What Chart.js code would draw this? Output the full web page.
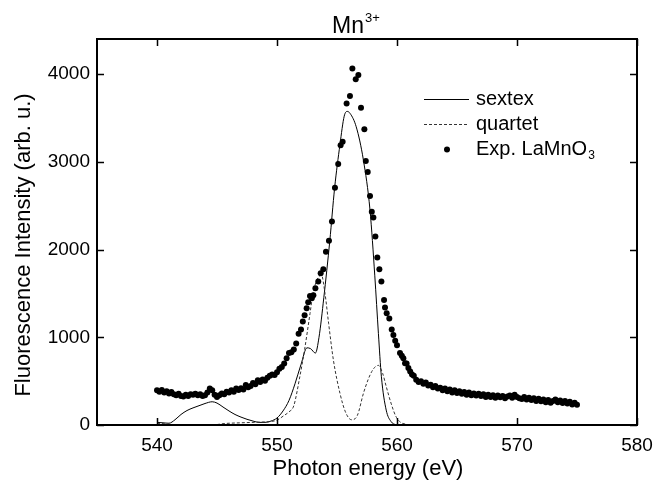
<!DOCTYPE html>
<html>
<head>
<meta charset="utf-8">
<script src="https://cdn.jsdelivr.net/npm/chart.js@4.4.1/dist/chart.umd.min.js"></script>
<style>
  body { margin: 0; background: #fff; }
  canvas { display: block; }
</style>
</head>
<body>
<canvas id="mn_chart" width="662" height="490"></canvas>
<script>
const x_ticks = [540, 550, 560, 570, 580];
const y_ticks = [0, 1000, 2000, 3000, 4000];

// measured points, Exp. LaMnO3
const exp_energy = [
  540.0,540.2,540.4,540.6,540.8,541.0,541.2,541.4,541.6,541.8,
  542.0,542.2,542.4,542.6,542.8,543.0,543.2,543.4,543.6,543.8,
  544.0,544.2,544.4,544.6,544.8,545.0,545.2,545.4,545.6,545.8,
  546.0,546.2,546.4,546.6,546.8,547.0,547.2,547.4,547.6,547.8,
  548.0,548.2,548.4,548.6,548.8,549.0,549.2,549.4,549.6,549.8,
  550.0,550.2,550.4,550.6,550.8,551.0,551.2,551.4,551.6,551.8,
  552.0,552.15,552.3,552.47,552.6,552.75,552.9,553.03,553.2,553.44,
  553.64,553.86,554.08,554.33,554.58,554.83,555.1,555.3,555.47,555.8,
  556.08,556.28,556.56,556.78,557.0,557.28,557.4,557.56,557.75,557.9,
  558.03,558.2,558.36,558.53,558.7,558.92,559.0,559.14,559.36,559.56,
  559.7,559.85,560.0,560.25,560.4,560.53,560.67,560.8,560.95,561.1,
  561.25,561.4,561.6,
  561.8,562.0,562.2,562.4,562.6,562.8,563.0,563.2,563.4,563.6,
  563.8,564.0,564.2,564.4,564.6,564.8,565.0,565.2,565.4,565.6,
  565.8,566.0,566.2,566.4,566.6,566.8,567.0,567.2,567.4,567.6,
  567.8,568.0,568.2,568.4,568.6,568.8,569.0,569.2,569.4,569.6,
  569.8,570.0,570.2,570.4,570.6,570.8,571.0,571.2,571.4,571.6,
  571.8,572.0,572.2,572.4,572.6,572.8,573.0,573.2,573.4,573.6,
  573.8,574.0,574.2,574.4,574.6,574.8,575.0
];
const exp_intensity = [
  395,380,400,370,385,360,375,350,340,355,
  330,325,345,330,350,345,355,340,350,330,
  340,370,415,395,345,320,340,360,350,380,
  370,395,380,415,400,420,405,455,430,445,
  480,465,510,490,520,505,540,560,575,570,
  600,640,660,700,760,820,830,860,930,1040,
  1090,1180,1250,1330,1400,1470,1445,1480,1560,1635,
  1730,1775,1975,2100,2320,2705,2975,3190,3230,3665,
  3750,4065,3940,3990,3615,3370,3010,2885,2610,2430,
  2365,2150,1910,1775,1635,1425,1340,1275,1215,1090,
  1025,960,910,820,790,760,705,700,650,610,
  575,560,515,
  490,500,470,485,450,460,430,445,415,425,
  395,415,385,405,370,395,365,385,355,375,
  345,370,340,360,335,355,330,350,320,345,
  320,340,310,335,315,330,305,325,335,310,
  345,320,305,295,320,290,310,285,305,275,
  300,270,290,260,285,255,275,290,260,280,
  250,275,245,265,235,255,230
];

// calculated sextex spectrum
const sextex_energy = [
  540.0,540.5,541.0,541.5,542.0,542.5,543.0,543.5,544.0,544.6,
  545.0,545.5,546.0,546.5,547.0,547.5,548.0,548.5,549.0,549.5,
  550.0,550.5,551.0,551.5,552.0,552.5,552.8,553.2,553.5,553.9,
  554.4,554.8,555.25,555.6,555.85,556.1,556.6,557.2,557.75,558.15,
  558.45,558.7,559.1,559.5,559.9
];
const sextex_intensity = [
  30,25,20,60,120,165,195,220,245,265,
  250,205,160,120,90,65,45,30,30,45,
  80,160,280,470,690,880,870,820,1000,1450,
  2100,2700,3200,3520,3575,3550,3400,3020,2450,1700,
  1045,550,170,40,0
];

// calculated quartet spectrum
const quartet_energy = [
  540.0,540.5,541.0,541.5,542.5,543.5,544.5,545.0,545.5,546.0,
  547.0,548.0,549.0,549.5,550.0,550.5,551.0,551.4,551.9,552.3,
  552.75,553.0,553.35,553.7,554.0,554.3,554.7,555.25,555.7,556.2,
  556.7,557.2,557.6,557.9,558.2,558.45,558.8,559.1,559.5,559.9,
  560.3,560.7,561.0
];
const quartet_intensity = [
  20,15,5,0,0,0,0,5,15,20,
  25,30,35,40,55,100,150,220,550,860,
  1270,1500,1660,1710,1500,1160,740,360,150,60,
  110,360,520,610,665,680,590,440,250,100,
  30,10,0
];

const font_family = "'Liberation Sans', Arial, Helvetica, sans-serif";

function to_points(xs, ys) {
  return xs.map((x, i) => ({ x: x, y: ys[i] }));
}

// box round the plot with inward ticks on all four sides
const frame_plugin = {
  id: "frame",
  afterDraw(chart) {
    const ctx = chart.ctx;
    const area = chart.chartArea;
    const xs = chart.scales.x;
    const ys = chart.scales.y;
    ctx.save();
    ctx.strokeStyle = "#000";
    ctx.lineWidth = 2;
    ctx.strokeRect(area.left, area.top, area.right - area.left, area.bottom - area.top);
    ctx.lineWidth = 1.5;
    ctx.beginPath();
    for (const t of xs.ticks) {
      const px = Math.round(xs.getPixelForValue(t.value)) + 0.5;
      ctx.moveTo(px, area.bottom);
      ctx.lineTo(px, area.bottom - 7);
      ctx.moveTo(px, area.top);
      ctx.lineTo(px, area.top + 7);
    }
    for (const t of ys.ticks) {
      const py = Math.round(ys.getPixelForValue(t.value)) + 0.5;
      ctx.moveTo(area.left, py);
      ctx.lineTo(area.left + 7, py);
      ctx.moveTo(area.right, py);
      ctx.lineTo(area.right - 7, py);
    }
    ctx.stroke();
    ctx.restore();
  }
};

// title, axis titles and legend
const text_plugin = {
  id: "texts",
  afterDraw(chart) {
    const ctx = chart.ctx;
    ctx.save();
    ctx.fillStyle = "#000";
    ctx.textBaseline = "alphabetic";

    // title Mn3+
    ctx.font = "23px " + font_family;
    const w_main = ctx.measureText("Mn").width;
    ctx.font = "13px " + font_family;
    const w_sup = ctx.measureText("3+").width;
    const title_x = 356 - (w_main + w_sup + 1) / 2;
    ctx.font = "23px " + font_family;
    ctx.textAlign = "left";
    ctx.fillText("Mn", title_x, 33);
    ctx.font = "13px " + font_family;
    ctx.fillText("3+", title_x + w_main + 1, 22);

    // axis titles
    ctx.font = "22px " + font_family;
    ctx.textAlign = "center";
    ctx.textBaseline = "middle";
    ctx.fillText("Photon energy (eV)", 368, 469);
    ctx.save();
    ctx.translate(24, 245);
    ctx.rotate(-Math.PI / 2);
    ctx.fillText("Fluorescence Intensity (arb. u.)", 0, 0);
    ctx.restore();

    // legend
    ctx.strokeStyle = "#000";
    ctx.lineWidth = 1;
    ctx.beginPath();
    ctx.moveTo(424, 99.5);
    ctx.lineTo(469, 99.5);
    ctx.stroke();
    ctx.strokeStyle = "#333";
    ctx.setLineDash([3, 2]);
    ctx.beginPath();
    ctx.moveTo(424, 124.5);
    ctx.lineTo(469, 124.5);
    ctx.stroke();
    ctx.setLineDash([]);
    ctx.beginPath();
    ctx.arc(447, 149.5, 3, 0, Math.PI * 2);
    ctx.fill();

    ctx.font = "20px " + font_family;
    ctx.textAlign = "left";
    ctx.textBaseline = "middle";
    ctx.fillText("sextex", 476, 99);
    ctx.fillText("quartet", 476, 124);
    ctx.fillText("Exp. LaMnO", 476, 149);
    const w_exp = ctx.measureText("Exp. LaMnO").width;
    ctx.font = "12px " + font_family;
    ctx.fillText("3", 476 + w_exp + 1, 156);
    ctx.restore();
  }
};

new Chart(document.getElementById("mn_chart"), {
  type: "scatter",
  data: {
    datasets: [
      {
        label: "Exp. LaMnO3",
        data: to_points(exp_energy, exp_intensity),
        showLine: false,
        pointRadius: 3,
        pointBackgroundColor: "#000",
        pointBorderWidth: 0,
        order: 0
      },
      {
        label: "sextex",
        data: to_points(sextex_energy, sextex_intensity),
        showLine: true,
        borderColor: "#000",
        borderWidth: 1,
        pointRadius: 0,
        cubicInterpolationMode: "monotone",
        order: 2
      },
      {
        label: "quartet",
        data: to_points(quartet_energy, quartet_intensity),
        showLine: true,
        borderColor: "#333",
        borderWidth: 1,
        borderDash: [3, 2],
        pointRadius: 0,
        cubicInterpolationMode: "monotone",
        order: 1
      }
    ]
  },
  options: {
    responsive: false,
    animation: false,
    events: [],
    layout: { padding: { top: 39, right: 25, left: 0, bottom: 0 } },
    plugins: {
      legend: { display: false },
      title: { display: false },
      tooltip: { enabled: false }
    },
    scales: {
      x: {
        type: "linear",
        min: 535,
        max: 580,
        afterFit(scale) { scale.height = 65; },
        afterBuildTicks(scale) { scale.ticks = x_ticks.map(v => ({ value: v })); },
        grid: { display: false, drawTicks: false },
        border: { display: false },
        ticks: {
          padding: 9,
          color: "#000",
          font: { family: font_family, size: 19 },
          callback: v => String(v)
        }
      },
      y: {
        type: "linear",
        min: 0,
        max: 4400,
        afterFit(scale) { scale.width = 97; },
        afterBuildTicks(scale) { scale.ticks = y_ticks.map(v => ({ value: v })); },
        grid: { display: false, drawTicks: false },
        border: { display: false },
        ticks: {
          padding: 7,
          color: "#000",
          font: { family: font_family, size: 19 },
          callback: v => String(v)
        }
      }
    }
  },
  plugins: [frame_plugin, text_plugin]
});
</script>
</body>
</html>
